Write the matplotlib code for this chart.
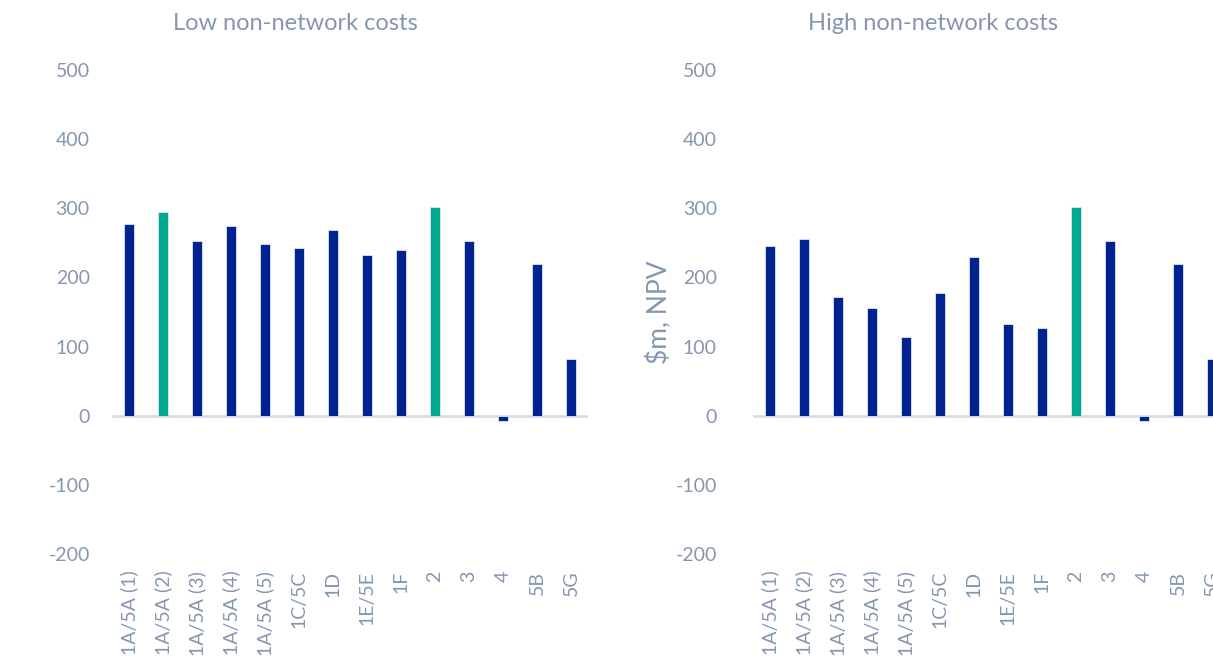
import matplotlib.pyplot as plt
import numpy as np

plt.rcParams['font.family'] = ['Lato', 'DejaVu Sans']
plt.rcParams['axes.unicode_minus'] = False

options = ['1A/5A (1)', '1A/5A (2)', '1A/5A (3)', '1A/5A (4)', '1A/5A (5)',
           '1C/5C', '1D', '1E/5E', '1F', '2', '3', '4', '5B', '5G']
low_costs = [278, 295, 252, 275, 249, 243, 269, 232, 239, 302, 252, -8, 219, 82]
high_costs = [245, 256, 171, 156, 114, 177, 230, 132, 127, 302, 252, -8, 219, 82]
highlight_low = ['1A/5A (2)', '2']
highlight_high = ['2']

navy = '#00238F'
teal = '#00A88F'
text_col = '#8497B0'

fig = plt.figure(figsize=(12.13, 6.65), dpi=100)


def draw(ax, values, highlight, title, title_x, ylabel=None):
    x = np.arange(len(options))
    colors = [teal if o in highlight else navy for o in options]
    ax.bar(x, values, width=0.32, color=colors, edgecolor='#dfe6f5', linewidth=0.6, zorder=3)
    ax.axhline(0, color='#D9DEE8', linewidth=2, zorder=2)
    ax.set_xlim(-0.5, len(options) - 0.5)
    ax.set_ylim(-200, 500)
    ax.set_yticks(range(-200, 501, 100))
    ax.set_xticks(x)
    ax.set_xticklabels(options, rotation=90, va='top', ha='center', fontsize=14)
    for s in ax.spines.values():
        s.set_visible(False)
    ax.tick_params(axis='both', length=0, colors=text_col)
    ax.tick_params(axis='y', labelsize=14)
    ax.tick_params(axis='x', pad=12)
    if ylabel:
        ax.set_ylabel(ylabel, color=text_col, fontsize=19, labelpad=2)
    fig.text(title_x, 0.965, title, color=text_col, fontsize=17, ha='center', va='center')


ax1 = fig.add_axes([0.0923, 0.1669, 0.3924, 0.7278])
draw(ax1, low_costs, highlight_low, 'Low non-network costs', 295 / 1213)
ax1.tick_params(axis='y', pad=16)

ax2 = fig.add_axes([0.6208, 0.1669, 0.3924, 0.7278])
draw(ax2, high_costs, highlight_high, 'High non-network costs', 933 / 1213, ylabel='$m, NPV')
ax2.tick_params(axis='y', pad=26)

fig.savefig('out.png', dpi=100)
